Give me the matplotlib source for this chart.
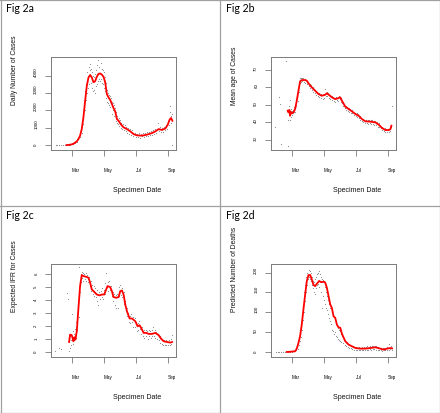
import matplotlib
matplotlib.use("Agg")
import matplotlib.pyplot as plt
import numpy as np

# ---------------- data (x = days since 1 March 2020) ----------------
tick_days = [0, 61, 122, 184]
tick_labels = ["Mar", "May", "Jul", "Sep"]

line_a = [(-10, 0), (-5, 10), (0, 40), (3, 75), (6, 130), (9.6, 210), (12.8, 350), (15.9, 540),
          (19.1, 920), (22.3, 1600), (25.6, 2560), (28.8, 3420), (32, 3900), (35.2, 4040),
          (38.3, 3900), (41.5, 3620), (44.7, 3680), (47.9, 3940), (51.1, 4100), (54.3, 4130),
          (57.5, 4060), (60.7, 3940), (63.9, 3620), (67.1, 2940), (70.3, 2750), (73.5, 2600),
          (76.7, 2370), (79.9, 2130), (83.1, 1940), (86.3, 1500), (89.5, 1400), (92.7, 1250),
          (95.9, 1120), (99.1, 1020), (105.5, 920), (111.9, 790), (118.2, 630), (124.6, 560),
          (134.2, 540), (143.8, 600), (153.4, 690), (159.8, 790), (166.2, 920), (172.6, 870),
          (179, 960), (183.5, 1170), (187.3, 1480), (189.9, 1560), (192.4, 1400)]

pts_a = [(-30, 0), (-28, 0), (-25, 0), (-21, 0), (-17, 0), (-13, 5), (-9, 10), (-6, 15), (-3, 30),
         (0, 50), (2, 40), (4, 120), (6, 110), (8, 230), (10, 190), (12, 380), (14, 500), (16, 480),
         (18, 900), (19, 700), (21, 1500), (22, 1200), (24, 2400), (25, 2000), (26, 3100), (27, 2600),
         (28, 3500), (29, 3000), (30, 4200), (31, 3300), (32, 4500), (33, 3500), (34, 4300), (35, 4700),
         (36, 3600), (37, 4400), (38, 3300), (39, 4200), (40, 3100), (41, 4000), (42, 3200), (43, 3900),
         (44, 3000), (45, 4100), (46, 3400), (47, 4300), (48, 3500), (49, 4600), (50, 3700), (51, 4900),
         (52, 3800), (53, 4500), (54, 3700), (55, 4750), (56, 3800), (57, 4400), (58, 3600), (59, 4300),
         (60, 3500), (61, 4200), (62, 3300), (63, 3900), (64, 3100), (65, 3600), (66, 2700), (67, 3200),
         (68, 2500), (69, 3000), (70, 2400), (71, 2900), (72, 2300), (73, 2850), (74, 2200), (75, 2700),
         (76, 1800), (77, 2500), (78, 2000), (79, 2400), (80, 1700), (81, 2300), (82, 1800), (83, 2150),
         (84, 1400), (85, 1900), (86, 1300), (87, 1700), (88, 1200), (90, 1550), (91, 1100), (92, 1450),
         (94, 1000), (95, 1300), (97, 900), (98, 1200), (100, 850), (101, 1150), (103, 800), (104, 1050),
         (106, 700), (108, 1000), (110, 650), (112, 900), (114, 600), (116, 850), (118, 500), (120, 700),
         (122, 450), (124, 650), (126, 480), (128, 680), (130, 420), (132, 650), (134, 500), (136, 700),
         (138, 460), (140, 680), (142, 520), (144, 750), (146, 500), (148, 780), (150, 560), (152, 820),
         (154, 600), (156, 850), (158, 650), (160, 950), (162, 700), (164, 1300), (166, 800), (168, 1050),
         (170, 750), (172, 1000), (174, 780), (176, 1050), (178, 850), (180, 1150), (182, 950), (184, 1350),
         (186, 1150), (187, 1900), (188, 2250), (189, 1700), (190, 1300), (191, 1800), (192, 0)]

line_b = [(-7.7, 46.6), (-6.4, 45.6), (-4.5, 47), (-3.2, 43.7), (-1.9, 46), (0, 45), (3.2, 45.6),
          (6.4, 47.5), (9.6, 52.3), (12.8, 58), (15.9, 63.3), (19.1, 64.1), (25.6, 64.1), (28.8, 63.7),
          (32, 62.2), (38.3, 59.9), (44.7, 58), (51.1, 56.1), (57.5, 55.1), (63.9, 55.7), (67.1, 56.5),
          (71.6, 55.5), (76.7, 54.2), (83.1, 53.2), (87.6, 53.6), (92.7, 54.2), (95.9, 52.3),
          (102.3, 48.9), (108.7, 47.5), (115.1, 46.2), (121.4, 44.7), (127.8, 43.7), (134.2, 41.8),
          (140.6, 40.5), (150.2, 40.3), (159.8, 39.9), (166.2, 38.6), (172.6, 36.7), (179, 35.5),
          (185.4, 35.5), (188.6, 36), (190.5, 38)]

pts_b = [(-32, 37.5), (-24, 54.5), (-22, 50.5), (-20, 27.5), (-11, 75), (-8, 26.5), (-7, 41), (-6, 49.5),
         (-5, 44), (-4, 52.5), (-3, 41.5), (-2, 47.5), (-1, 43), (0, 46.5), (1, 44), (2, 47), (3, 45),
         (4, 46), (5, 48.5), (6, 46), (7, 49), (8, 51), (9, 49), (10, 54.5), (11, 52), (12, 58), (13, 57),
         (14, 62), (15, 65.5), (16, 62.5), (17, 65), (18, 63), (19, 65.5), (20, 63.5), (22, 65), (23, 63),
         (25, 64.5), (26, 62.5), (28, 64), (29, 62), (31, 63), (32, 60.5), (34, 62), (35, 59.5), (37, 61),
         (38, 58.5), (40, 60), (41, 57.5), (43, 59), (44, 56.5), (46, 58), (47, 55.5), (49, 57.5), (50, 55),
         (52, 56.5), (53, 54.5), (55, 56), (56, 54), (58, 55.5), (59, 53.5), (61, 56), (62, 54), (64, 59),
         (65, 55), (67, 57.5), (68, 55), (70, 56.5), (71, 54), (73, 55.5), (74, 53), (76, 55), (77, 52.5),
         (79, 54.5), (80, 52), (82, 54), (83, 51.5), (85, 54.5), (86, 52.5), (88, 54), (89, 52), (91, 55),
         (92, 53), (94, 54), (95, 51.5), (97, 51), (98, 49.5), (100, 50.5), (101, 48), (103, 49.5),
         (104, 47), (106, 48.5), (107, 46.5), (109, 48), (110, 46), (112, 47.5), (113, 45.5), (115, 47),
         (116, 45), (118, 46), (119, 44), (121, 45.5), (122, 43.5), (124, 45), (125, 43), (127, 44.5),
         (128, 42.5), (130, 43.5), (131, 41.5), (133, 42.5), (134, 40.5), (136, 42), (137, 40), (139, 41.5),
         (140, 39.5), (142, 41), (143, 39.5), (145, 41.5), (146, 39), (148, 41), (149, 39.5), (151, 41.5),
         (152, 39), (154, 41), (155, 39), (157, 40.5), (158, 38.5), (160, 40.5), (161, 38.5), (163, 40),
         (164, 37.5), (166, 39.5), (167, 37), (169, 38.5), (170, 36.5), (172, 37.5), (173, 35.5),
         (175, 36.5), (176, 35), (178, 36.5), (179, 34.5), (181, 36), (182, 34.5), (184, 36), (185, 34.5),
         (187, 36.5), (188, 35), (190, 37), (191, 49)]

line_c = [(-5.1, 0.77), (-3.2, 1.34), (0, 1.29), (1.9, 1.03), (3.2, 0.82), (5.1, 1.13), (7.0, 0.95),
          (9.6, 1.6), (12.8, 3.4), (15.9, 5.08), (19.1, 5.93), (22.3, 5.85), (27.5, 5.8), (32, 5.72),
          (35.2, 5.33), (38.3, 4.82), (42.8, 4.64), (47.9, 4.43), (53, 4.36), (57.5, 4.43), (62, 4.43),
          (65.8, 4.82), (68.4, 5.08), (73.5, 5.0), (76.7, 4.69), (79.9, 4.23), (85, 4.18), (89.5, 4.23),
          (92.7, 4.69), (95.9, 4.74), (99.1, 4.43), (102.3, 3.66), (105.5, 3.14), (110.6, 2.58),
          (115.1, 2.58), (121.4, 2.37), (125.9, 1.98), (129.7, 2.06), (134.2, 1.73), (137.4, 1.47),
          (142.5, 1.47), (147, 1.39), (153.4, 1.39), (159.8, 1.47), (166.2, 1.29), (170.6, 1.03),
          (175.8, 0.82), (182.2, 0.77), (188.6, 0.72), (191.8, 0.77)]

pts_c = [(-32, 0.1), (-24, 0.3), (-21, 0.2), (-10, 4.55), (-8, 4.1), (-5, 0.05), (-4, 0.3), (-3, 1.2),
         (-2, 0.5), (-1, 0.9), (0, 2.9), (1, 1.0), (2, 1.6), (3, 0.6), (4, 1.4), (5, 0.9), (6, 1.3),
         (7, 1.8), (8, 1.1), (9, 2.3), (10, 1.7), (11, 3.0), (12, 3.8), (13, 2.7), (14, 6.55), (15, 4.6),
         (16, 5.5), (17, 6.0), (18, 5.4), (19, 6.2), (20, 5.7), (21, 6.1), (22, 5.5), (24, 6.0), (25, 5.6),
         (27, 6.1), (28, 5.5), (30, 5.9), (31, 5.4), (33, 5.8), (34, 5.1), (36, 5.5), (37, 4.7), (39, 5.2),
         (40, 4.5), (42, 5.1), (43, 4.3), (45, 4.9), (46, 4.2), (48, 4.8), (49, 3.9), (51, 3.6), (52, 4.6),
         (54, 4.1), (55, 4.7), (57, 4.2), (58, 4.9), (60, 4.1), (61, 4.8), (63, 5.3), (64, 4.5), (66, 6.1),
         (67, 5.0), (69, 5.4), (70, 4.7), (72, 5.5), (73, 4.8), (75, 5.1), (76, 4.3), (78, 4.6), (79, 3.9),
         (81, 4.5), (82, 3.6), (84, 4.4), (85, 3.4), (87, 4.5), (88, 3.4), (90, 4.3), (91, 5.0), (93, 5.2),
         (94, 4.4), (96, 4.9), (97, 4.2), (99, 4.6), (100, 3.7), (102, 3.9), (103, 3.2), (105, 3.4),
         (106, 2.8), (108, 3.0), (109, 2.3), (111, 2.8), (112, 2.2), (114, 2.9), (115, 2.3), (117, 2.7),
         (118, 1.9), (120, 2.6), (121, 1.9), (123, 2.3), (124, 1.6), (126, 2.2), (127, 1.7), (129, 2.4),
         (130, 1.8), (132, 1.9), (133, 1.4), (135, 1.9), (136, 1.2), (138, 1.7), (139, 1.1), (141, 1.7),
         (142, 1.2), (144, 1.6), (145, 1.0), (147, 1.7), (148, 1.2), (150, 1.6), (151, 1.1), (153, 1.7),
         (154, 1.2), (156, 1.9), (157, 1.2), (159, 1.7), (160, 1.1), (162, 1.5), (163, 1.0), (165, 1.4),
         (166, 0.9), (168, 1.2), (169, 0.7), (171, 1.1), (172, 0.6), (174, 0.9), (175, 0.5), (177, 0.9),
         (178, 0.5), (180, 0.9), (181, 0.5), (183, 0.8), (184, 0.5), (186, 0.9), (187, 0.5), (189, 1.0),
         (190, 0.6), (191, 1.3)]

line_d = [(-9.6, 0), (-3, 0.5), (0, 1), (6.4, 1.7), (9.6, 8.4), (12.8, 22.8), (15.9, 39.7), (19.1, 69),
          (22.3, 107), (25.6, 145), (28.8, 179), (32, 194), (35.2, 194), (38.3, 183), (41.5, 169),
          (44.7, 166), (47.9, 172), (52.4, 179), (56.2, 176), (60.7, 177), (63.9, 175), (67.1, 162),
          (70.3, 141), (73.5, 120), (76.7, 111), (79.9, 90), (83.1, 86), (86.3, 69), (89.5, 62),
          (92.7, 61), (95.9, 46), (102.3, 27), (108.7, 18.6), (115.1, 14.3), (121.4, 10.1), (131, 8.4),
          (140.6, 8.4), (150.2, 10), (159.8, 11.8), (169.4, 8.4), (175.8, 5.9), (182.2, 8.4),
          (188.6, 10), (191.8, 9)]

pts_d = [(-30, 0), (-27, 0), (-24, 0), (-20, 0), (-16, 0), (-12, 0), (-8, 0), (-4, 1), (0, 1), (2, 2),
         (4, 3), (6, 4), (8, 6), (10, 12), (11, 8), (12, 25), (13, 18), (14, 35), (15, 28), (16, 48),
         (17, 38), (18, 70), (19, 55), (20, 92), (21, 80), (22, 118), (23, 100), (24, 150), (25, 128),
         (26, 168), (27, 150), (28, 190), (29, 170), (30, 200), (31, 185), (32, 206), (33, 190), (34, 204),
         (35, 185), (36, 198), (37, 178), (38, 188), (39, 168), (40, 180), (41, 160), (42, 176), (43, 152),
         (44, 185), (45, 145), (46, 190), (47, 160), (48, 196), (49, 168), (50, 200), (51, 172), (52, 204),
         (53, 165), (54, 196), (55, 150), (56, 190), (57, 112), (58, 185), (59, 140), (60, 182), (61, 130),
         (62, 178), (63, 122), (64, 165), (65, 110), (66, 150), (67, 105), (68, 140), (69, 95), (70, 130),
         (71, 85), (72, 120), (73, 78), (74, 112), (75, 70), (76, 100), (77, 55), (78, 95), (79, 52),
         (80, 88), (81, 45), (82, 80), (83, 50), (84, 72), (85, 40), (86, 65), (87, 38), (88, 60), (89, 32),
         (90, 56), (91, 30), (92, 52), (93, 28), (94, 45), (95, 25), (96, 40), (98, 22), (99, 32), (101, 18),
         (102, 28), (104, 14), (105, 24), (107, 12), (108, 20), (110, 10), (111, 18), (113, 9), (114, 16),
         (116, 7), (117, 14), (119, 6), (120, 13), (122, 5), (123, 12), (125, 5), (126, 11), (128, 4),
         (129, 12), (131, 5), (132, 11), (134, 4), (135, 12), (137, 5), (138, 13), (140, 6), (141, 12),
         (143, 5), (144, 14), (146, 6), (147, 13), (149, 7), (150, 15), (152, 6), (153, 16), (155, 8),
         (156, 15), (158, 7), (159, 16), (161, 6), (162, 14), (164, 5), (165, 13), (167, 4), (168, 11),
         (170, 4), (171, 10), (173, 3), (174, 9), (176, 4), (177, 10), (179, 5), (180, 11), (182, 4),
         (183, 12), (185, 5), (186, 20), (188, 7), (189, 15), (191, 6)]

panel_titles = ["Fig 2a", "Fig 2b", "Fig 2c", "Fig 2d"]
ylabels = ["Daily Number of Cases", "Mean age of Cases", "Expected IFR for Cases",
           "Predicted Number of Deaths"]
xlabel = "Specimen Date"
yticks = [[0, 1000, 2000, 3000, 4000], [30, 40, 50, 60, 70], [0, 1, 2, 3, 4, 5, 6],
          [0, 50, 100, 150, 200]]
ylims = [(-285, 5060), (24.1, 77.1), (-0.39, 6.76), (-12.7, 221)]
lines = [line_a, line_b, line_c, line_d]
points = [pts_a, pts_b, pts_c, pts_d]

# ---------------- layout ----------------
W, H = 440, 414
fig = plt.figure(figsize=(W / 100, H / 100), dpi=100)
fig.patch.set_facecolor("white")


def fx(x):
    return x / W


def fy(y):
    return 1 - y / H


origins = [(0, 0), (220, 0), (0, 207), (220, 207)]
AX_L, AX_R, AX_T, AX_B = 51, 176, 58.3, 151

for i, (ox, oy) in enumerate(origins):
    ax = fig.add_axes([fx(ox + AX_L), fy(oy + AX_B), (AX_R - AX_L) / W, (AX_B - AX_T) / H])
    pd_ = np.array(points[i], dtype=float)
    ax.scatter(pd_[:, 0], pd_[:, 1], s=0.7, color="#8a8a8a", linewidths=0, zorder=2)
    ld = np.array(lines[i], dtype=float)
    ax.plot(ld[:, 0], ld[:, 1], color="#ff0000", lw=1.3, zorder=3, solid_joinstyle="round")
    ax.set_xlim(-39.7, 199.3)
    ax.set_ylim(*ylims[i])
    for s in ax.spines.values():
        s.set_color("#7a7a7a")
        s.set_linewidth(0.7)
    ax.set_xticks(tick_days)
    ax.set_xticklabels(tick_labels, fontsize=3.3, family="Liberation Sans", ha="left")
    ax.set_yticks(yticks[i])
    ax.set_yticklabels([str(v) for v in yticks[i]], fontsize=3.2, family="Liberation Sans")
    ax.tick_params(axis="x", length=4, width=0.6, color="#7a7a7a", pad=8.3)
    ax.tick_params(axis="y", length=4, width=0.6, color="#7a7a7a", pad=6.6)
    for lab in ax.get_yticklabels():
        lab.set_rotation(90)
        lab.set_rotation_mode("anchor")
        lab.set_horizontalalignment("left")
        lab.set_verticalalignment("center")
    # axis labels
    fig.text(fx(ox + 14), fy(oy + 105), ylabels[i], rotation=90, rotation_mode="anchor",
             ha="left", va="center", fontsize=4.9, family="Liberation Sans", color="#111111")
    fig.text(fx(ox + 113), fy(oy + 190.5), xlabel, ha="left", va="center",
             fontsize=5.0, family="Liberation Sans", color="#111111")
    fig.text(fx(ox + 6), fy(oy + 9), panel_titles[i], ha="left", va="center",
             fontsize=7.6, family="Lato", color="black")

# panel frame lines
border = "#a0a0a0"
fig.add_artist(plt.Line2D([fx(219.5), fx(219.5)], [0, 1], color=border, lw=0.9))
fig.add_artist(plt.Line2D([0, 1], [fy(206.5), fy(206.5)], color=border, lw=0.9))
fig.add_artist(plt.Line2D([fx(0.5), fx(0.5)], [0, 1], color=border, lw=0.9))
fig.add_artist(plt.Line2D([fx(439.5), fx(439.5)], [0, 1], color=border, lw=0.9))
fig.add_artist(plt.Line2D([0, 1], [fy(0.5), fy(0.5)], color=border, lw=0.9))
fig.add_artist(plt.Line2D([0, 1], [fy(413.5), fy(413.5)], color=border, lw=0.9))

fig.savefig("out.png", dpi=100)
